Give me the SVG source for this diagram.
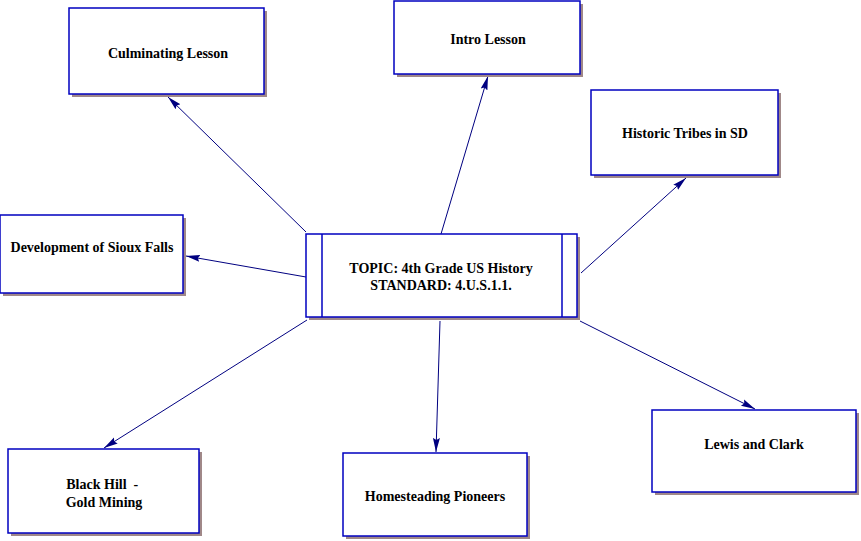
<svg xmlns="http://www.w3.org/2000/svg" width="861" height="541" viewBox="0 0 861 541">
<style>
.box{fill:#fff;stroke:#0000c0;stroke-width:1.5}
.sh{fill:#a08888}
.t{font-family:"Liberation Serif","Times New Roman",serif;font-weight:bold;font-size:14px;fill:#000;text-anchor:middle}
.c{stroke:#000080;stroke-width:1;fill:none;marker-end:url(#ah)}
</style>
<defs>
<marker id="ah" markerUnits="userSpaceOnUse" markerWidth="16" markerHeight="10" refX="14" refY="4" orient="auto">
<path d="M0,0.5 L14,4 L0,7.5 L2,4 Z" fill="#000080"/>
</marker>
</defs>
<rect width="861" height="541" fill="#fff"/>
<g id="connectors">
<line class="c" x1="306" y1="232" x2="168" y2="97"/>
<line class="c" x1="441" y1="234" x2="488" y2="76"/>
<line class="c" x1="581" y1="273" x2="686" y2="178"/>
<line class="c" x1="306" y1="277" x2="186" y2="256"/>
<line class="c" x1="307" y1="320" x2="104" y2="448"/>
<line class="c" x1="440" y1="321" x2="436" y2="452"/>
<line class="c" x1="580" y1="321" x2="755" y2="409"/>
</g>
<g id="center">
<rect class="sh" x="309" y="237" width="271" height="83"/>
<rect class="box" x="306" y="234" width="271" height="83"/>
<line class="box" x1="322" y1="234" x2="322" y2="317"/>
<line class="box" x1="562" y1="234" x2="562" y2="317"/>
<text class="t" x="441" y="273">TOPIC: 4th Grade US History</text>
<text class="t" x="441" y="290">STANDARD: 4.U.S.1.1.</text>
</g>
<g id="culminating">
<rect class="sh" x="72" y="11" width="195" height="86"/>
<rect class="box" x="69" y="8" width="195" height="86"/>
<text class="t" x="168" y="58">Culminating Lesson</text>
</g>
<g id="intro">
<rect class="sh" x="397" y="4" width="186" height="73"/>
<rect class="box" x="394" y="1" width="186" height="73"/>
<text class="t" x="488" y="44">Intro Lesson</text>
</g>
<g id="historic">
<rect class="sh" x="594" y="93" width="187" height="85"/>
<rect class="box" x="591" y="90" width="187" height="85"/>
<text class="t" x="685" y="138">Historic Tribes in SD</text>
</g>
<g id="sioux">
<rect class="sh" x="3" y="218" width="183" height="78"/>
<rect class="box" x="0" y="215" width="183" height="78"/>
<text class="t" x="92" y="252">Development of Sioux Falls</text>
</g>
<g id="blackhill">
<rect class="sh" x="11" y="452" width="191" height="84"/>
<rect class="box" x="8" y="449" width="191" height="84"/>
<text class="t" x="104" y="489" xml:space="preserve">Black Hill  - </text>
<text class="t" x="104" y="507">Gold Mining</text>
</g>
<g id="homestead">
<rect class="sh" x="346" y="456" width="184" height="83"/>
<rect class="box" x="343" y="453" width="184" height="83"/>
<text class="t" x="435" y="501">Homesteading Pioneers</text>
</g>
<g id="lewis">
<rect class="sh" x="655" y="413" width="204" height="82"/>
<rect class="box" x="652" y="410" width="204" height="82"/>
<text class="t" x="754" y="449">Lewis and Clark</text>
</g>
</svg>
